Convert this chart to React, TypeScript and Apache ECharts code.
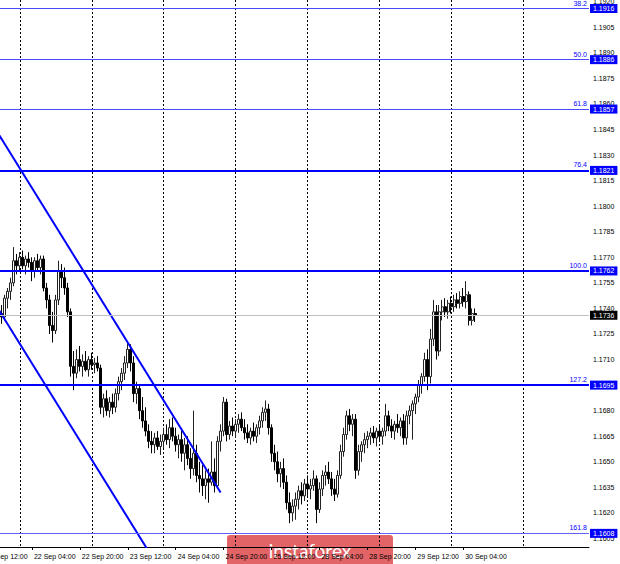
import React, { useEffect, useRef } from "react";
import * as echarts from "echarts";

// ---- data (EURUSD H1) ----
const opens = [
  1.1736, 1.1737, 1.1735, 1.1746, 1.1750, 1.1755, 1.1768, 1.1765, 1.1770, 1.1765,
  1.1769, 1.1767, 1.1762, 1.1768, 1.1764, 1.1769, 1.1752, 1.1745, 1.1730, 1.1727,
  1.1745, 1.1762, 1.1758, 1.1752, 1.1738, 1.1706, 1.1702, 1.1710, 1.1706, 1.1709,
  1.1704, 1.1710, 1.1707, 1.1708, 1.1705, 1.1682, 1.1687, 1.1680, 1.1685, 1.1682,
  1.1690, 1.1697, 1.1702, 1.1708, 1.1716, 1.1708, 1.1690, 1.1693, 1.1680, 1.1674,
  1.1668, 1.1662, 1.1660, 1.1664, 1.1659, 1.1662, 1.1666, 1.1663, 1.1670, 1.1665,
  1.1660, 1.1663, 1.1655, 1.1660, 1.1652, 1.1646, 1.1655, 1.1642, 1.1640, 1.1636,
  1.1640, 1.1638, 1.1644, 1.1636, 1.1662, 1.1668, 1.1685, 1.1666, 1.1671, 1.1668,
  1.1672, 1.1675, 1.1670, 1.1667, 1.1664, 1.1668, 1.1665, 1.1670, 1.1674, 1.1679,
  1.1681, 1.1670, 1.1655, 1.1650, 1.1643, 1.1646, 1.1638, 1.1626, 1.1620, 1.1624,
  1.1628, 1.1633, 1.1630, 1.1637, 1.1634, 1.1636, 1.1640, 1.1622, 1.1634, 1.1642,
  1.1644, 1.1640, 1.1634, 1.1631, 1.1642, 1.1656, 1.1666, 1.1677, 1.1672, 1.1675,
  1.1645, 1.1656, 1.1660, 1.1663, 1.1665, 1.1667, 1.1664, 1.1668, 1.1665, 1.1668,
  1.1677, 1.1671, 1.1668, 1.1672, 1.1670, 1.1674, 1.1664, 1.1677, 1.1680, 1.1684,
  1.1688, 1.1695, 1.1700, 1.1710, 1.1700, 1.1722, 1.1738, 1.1715, 1.1738, 1.1741,
  1.1738, 1.1743, 1.1741, 1.1745, 1.1743, 1.1747, 1.1744, 1.1748, 1.1733, 1.1737,
];
const highs = [
  1.1740, 1.1742, 1.1748, 1.1752, 1.1758, 1.1776, 1.1772, 1.1773, 1.1774, 1.1771,
  1.1773, 1.1770, 1.1770, 1.1772, 1.1771, 1.1771, 1.1755, 1.1748, 1.1738, 1.1748,
  1.1768, 1.1766, 1.1764, 1.1755, 1.1740, 1.1715, 1.1716, 1.1718, 1.1713, 1.1715,
  1.1712, 1.1714, 1.1711, 1.1712, 1.1707, 1.1690, 1.1692, 1.1688, 1.1690, 1.1693,
  1.1700, 1.1705, 1.1712, 1.1720, 1.1719, 1.1712, 1.1697, 1.1695, 1.1688, 1.1682,
  1.1672, 1.1668, 1.1667, 1.1668, 1.1666, 1.1670, 1.1672, 1.1675, 1.1676, 1.1670,
  1.1666, 1.1668, 1.1664, 1.1665, 1.1658, 1.1680, 1.1660, 1.1650, 1.1648, 1.1645,
  1.1646, 1.1662, 1.1652, 1.1665, 1.1672, 1.1688, 1.1687, 1.1674, 1.1676, 1.1675,
  1.1678, 1.1679, 1.1675, 1.1672, 1.1670, 1.1673, 1.1672, 1.1677, 1.1682, 1.1686,
  1.1684, 1.1672, 1.1660, 1.1656, 1.1650, 1.1652, 1.1642, 1.1632, 1.1628, 1.1632,
  1.1636, 1.1638, 1.1640, 1.1642, 1.1640, 1.1645, 1.1642, 1.1638, 1.1645, 1.1648,
  1.1650, 1.1644, 1.1640, 1.1645, 1.1660, 1.1670, 1.1680, 1.1681, 1.1678, 1.1678,
  1.1660, 1.1662, 1.1667, 1.1668, 1.1670, 1.1671, 1.1670, 1.1672, 1.1670, 1.1684,
  1.1680, 1.1675, 1.1674, 1.1678, 1.1676, 1.1678, 1.1680, 1.1683, 1.1686, 1.1690,
  1.1698, 1.1702, 1.1714, 1.1716, 1.1728, 1.1745, 1.1742, 1.1742, 1.1745, 1.1746,
  1.1745, 1.1747, 1.1748, 1.1749, 1.1750, 1.1752, 1.1756, 1.1750, 1.1740, 1.1740,
];
const lows = [
  1.1730, 1.1731, 1.1733, 1.1740, 1.1745, 1.1753, 1.1760, 1.1762, 1.1763, 1.1760,
  1.1764, 1.1756, 1.1758, 1.1762, 1.1760, 1.1750, 1.1740, 1.1725, 1.1720, 1.1725,
  1.1742, 1.1752, 1.1748, 1.1735, 1.1700, 1.1692, 1.1699, 1.1703, 1.1700, 1.1703,
  1.1700, 1.1704, 1.1702, 1.1703, 1.1678, 1.1676, 1.1677, 1.1676, 1.1678, 1.1679,
  1.1686, 1.1692, 1.1698, 1.1705, 1.1703, 1.1685, 1.1684, 1.1675, 1.1670, 1.1665,
  1.1658, 1.1655, 1.1655, 1.1657, 1.1654, 1.1658, 1.1660, 1.1658, 1.1662, 1.1656,
  1.1652, 1.1650, 1.1645, 1.1648, 1.1640, 1.1642, 1.1638, 1.1632, 1.1630, 1.1628,
  1.1626, 1.1636, 1.1632, 1.1634, 1.1656, 1.1665, 1.1662, 1.1663, 1.1665, 1.1664,
  1.1667, 1.1668, 1.1663, 1.1661, 1.1660, 1.1662, 1.1661, 1.1666, 1.1670, 1.1674,
  1.1666, 1.1650, 1.1645, 1.1638, 1.1635, 1.1634, 1.1622, 1.1614, 1.1615, 1.1616,
  1.1622, 1.1625, 1.1627, 1.1630, 1.1628, 1.1633, 1.1614, 1.1620, 1.1630, 1.1636,
  1.1637, 1.1630, 1.1627, 1.1629, 1.1640, 1.1653, 1.1663, 1.1668, 1.1665, 1.1640,
  1.1642, 1.1650, 1.1655, 1.1658, 1.1660, 1.1661, 1.1659, 1.1662, 1.1660, 1.1665,
  1.1668, 1.1664, 1.1663, 1.1667, 1.1665, 1.1660, 1.1660, 1.1672, 1.1663, 1.1678,
  1.1685, 1.1690, 1.1697, 1.1692, 1.1696, 1.1718, 1.1710, 1.1712, 1.1733, 1.1735,
  1.1734, 1.1737, 1.1738, 1.1740, 1.1740, 1.1741, 1.1740, 1.1730, 1.1730, 1.1732,
];
const closes = [
  1.1737, 1.1735, 1.1746, 1.1750, 1.1755, 1.1768, 1.1765, 1.1770, 1.1765, 1.1769,
  1.1767, 1.1762, 1.1768, 1.1764, 1.1769, 1.1752, 1.1745, 1.1730, 1.1727, 1.1745,
  1.1762, 1.1758, 1.1752, 1.1738, 1.1706, 1.1702, 1.1710, 1.1706, 1.1709, 1.1704,
  1.1710, 1.1707, 1.1708, 1.1705, 1.1682, 1.1687, 1.1680, 1.1685, 1.1682, 1.1690,
  1.1697, 1.1702, 1.1708, 1.1716, 1.1708, 1.1690, 1.1693, 1.1680, 1.1674, 1.1668,
  1.1662, 1.1660, 1.1664, 1.1659, 1.1662, 1.1666, 1.1663, 1.1670, 1.1665, 1.1660,
  1.1663, 1.1655, 1.1660, 1.1652, 1.1646, 1.1655, 1.1642, 1.1640, 1.1636, 1.1640,
  1.1638, 1.1644, 1.1636, 1.1662, 1.1668, 1.1685, 1.1666, 1.1671, 1.1668, 1.1672,
  1.1675, 1.1670, 1.1667, 1.1664, 1.1668, 1.1665, 1.1670, 1.1674, 1.1679, 1.1681,
  1.1670, 1.1655, 1.1650, 1.1643, 1.1646, 1.1638, 1.1626, 1.1620, 1.1624, 1.1628,
  1.1633, 1.1630, 1.1637, 1.1634, 1.1636, 1.1640, 1.1622, 1.1634, 1.1642, 1.1644,
  1.1640, 1.1634, 1.1631, 1.1642, 1.1656, 1.1666, 1.1677, 1.1672, 1.1675, 1.1645,
  1.1656, 1.1660, 1.1663, 1.1665, 1.1667, 1.1664, 1.1668, 1.1665, 1.1668, 1.1677,
  1.1671, 1.1668, 1.1672, 1.1670, 1.1674, 1.1664, 1.1677, 1.1680, 1.1684, 1.1688,
  1.1695, 1.1700, 1.1710, 1.1700, 1.1722, 1.1738, 1.1715, 1.1738, 1.1741, 1.1738,
  1.1743, 1.1741, 1.1745, 1.1743, 1.1747, 1.1744, 1.1748, 1.1733, 1.1737, 1.1736,
];

// trading days shown on the time axis (weekend skipped)
const tradingDays = ["21 Sep", "22 Sep", "23 Sep", "24 Sep", "25 Sep", "28 Sep", "29 Sep", "30 Sep", "01 Oct"];
const firstHour = 12; // axis starts at 21 Sep 12:00
const slotCount = 203;
const firstCandleSlot = 5; // first candle: 21 Sep 17:00

const xTickLabels = [
  "21 Sep 12:00", "22 Sep 04:00", "22 Sep 20:00", "23 Sep 12:00", "24 Sep 04:00",
  "24 Sep 20:00", "25 Sep 12:00", "28 Sep 04:00", "28 Sep 20:00", "29 Sep 12:00", "30 Sep 04:00",
];
const yTickValues = [
  1.1605, 1.1620, 1.1635, 1.1650, 1.1665, 1.1680, 1.1695, 1.1710, 1.1725, 1.1740, 1.1755,
  1.1770, 1.1785, 1.1800, 1.1815, 1.1830, 1.1845, 1.1860, 1.1875, 1.1890, 1.1905, 1.1920,
];
const fibNames = ["38.2", "50.0", "61.8", "76.4", "100.0", "127.2", "161.8"];
const fibPrices = [1.1916, 1.1886, 1.1857, 1.1821, 1.1762, 1.1695, 1.1608];
const currentPrice = 1.1736;
// trend channel: [slot, price]
const upperTrend = [[5, 1.1842], [79, 1.1632]];
const lowerTrend = [[5, 1.1739], [59, 1.1586]];

const yMin = 1.16;
const yMax = 1.1921;

// styles
const fibWidths = [1, 1, 1, 2, 2, 2, 1];
const fibColors = ["#4848ff", "#4848ff", "#4848ff", "#0000ff", "#0000ff", "#0000ff", "#6060ff"];
const FONT = "Liberation Sans";

function buildCategories(): string[] {
  const out: string[] = [];
  let first = true;
  for (const d of tradingDays) {
    for (let h = first ? firstHour : 0; h < 24; h++) {
      out.push(`${d} ${String(h).padStart(2, "0")}:00`);
      if (out.length >= slotCount) return out;
    }
    first = false;
  }
  return out;
}

export default function App() {
  const ref = useRef<HTMLDivElement>(null);
  useEffect(() => {
    if (!ref.current) return;
    const chart = echarts.init(ref.current, null, { renderer: "svg" });
    const categories = buildCategories();
    const candleData = opens.map((o, k) => [k + firstCandleSlot, o, closes[k], lows[k], highs[k]]);

    const boxLabel = (text: string, bg: string) => ({
      show: true,
      position: "end",
      formatter: text,
      color: "#ffffff",
      backgroundColor: bg,
      padding: [1, 3, 1, 3],
      fontSize: 7,
      fontFamily: FONT,
      distance: 1,
    });

    const fibLines: any[] = fibPrices.map((p, k) => ({
      yAxis: p,
      lineStyle: { color: fibColors[k], width: fibWidths[k], type: "solid" },
      label: {
        show: true,
        position: "insideEndTop",
        formatter: fibNames[k],
        color: "#0000ff",
        fontSize: 7,
        fontFamily: FONT,
        distance: [2, 2],
      },
    }));
    fibLines.push({
      yAxis: currentPrice,
      lineStyle: { color: "#c0c0c0", width: 1, type: "solid" },
      label: { show: false },
    });
    const priceBoxes: any[] = fibPrices.map((p) => ({
      yAxis: p,
      label: boxLabel(p.toFixed(4), "#0000ff"),
    }));
    priceBoxes.push({ yAxis: currentPrice, label: boxLabel(currentPrice.toFixed(4), "#000000") });

    const showTick = (_i: number, v: string) => xTickLabels.includes(v);

    chart.setOption({
      animation: false,
      backgroundColor: "#ffffff",
      textStyle: { fontFamily: FONT },
      grid: { left: -16, right: 31, top: 0, bottom: 17, containLabel: false, outerBoundsMode: "none" },
      xAxis: [
        {
          type: "category",
          data: categories,
          boundaryGap: false,
          axisLine: { show: true, lineStyle: { color: "#000000", width: 1 } },
          axisTick: { show: true, interval: showTick, length: 3, lineStyle: { color: "#000000" } },
          axisLabel: {
            interval: showTick,
            align: "left",
            margin: 6,
            padding: [0, 0, 0, 2],
            fontSize: 7,
            fontFamily: FONT,
            color: "#000000",
          },
          splitLine: {
            show: true,
            interval: (_i: number, v: string) => v.endsWith(" 00:00"),
            lineStyle: { color: "#000000", width: 1, type: [2, 2] },
          },
        },
        { type: "value", min: 0, max: slotCount - 1, show: false },
      ],
      yAxis: {
        type: "value",
        position: "right",
        min: yMin,
        max: yMax,
        axisLine: { show: true, lineStyle: { color: "#000000", width: 1 } },
        axisTick: { show: true, customValues: yTickValues, length: 3, lineStyle: { color: "#000000" } },
        axisLabel: {
          customValues: yTickValues,
          formatter: (v: number) => v.toFixed(4),
          fontSize: 7,
          fontFamily: FONT,
          color: "#000000",
          margin: 4,
        },
        splitLine: { show: false },
      },
      series: [
        {
          type: "candlestick",
          xAxisIndex: 0,
          yAxisIndex: 0,
          data: candleData,
          encode: { x: 0, y: [1, 2, 3, 4] },
          barWidth: 2.5,
          itemStyle: {
            color: "#ffffff",
            color0: "#000000",
            borderColor: "#222222",
            borderColor0: "#000000",
            borderWidth: 1,
          },
          markLine: {
            silent: true,
            symbol: ["none", "none"],
            precision: 4,
            animation: false,
            data: fibLines,
          },
        },
        {
          type: "line",
          xAxisIndex: 1,
          yAxisIndex: 0,
          data: upperTrend,
          symbol: "none",
          clip: true,
          silent: true,
          lineStyle: { color: "#0000ff", width: 2 },
        },
        {
          type: "line",
          xAxisIndex: 1,
          yAxisIndex: 0,
          data: lowerTrend,
          symbol: "none",
          clip: true,
          silent: true,
          lineStyle: { color: "#0000ff", width: 2 },
          markLine: {
            silent: true,
            symbol: ["none", "none"],
            precision: 4,
            animation: false,
            lineStyle: { width: 0, color: "#ffffff" },
            data: priceBoxes,
          },
        },
      ],
      graphic: [
        {
          type: "group",
          z: 100,
          children: [
            {
              type: "rect",
              shape: { x: 227, y: 535, width: 166, height: 32, r: [3, 3, 0, 0] },
              style: { fill: "#e26466" },
            },
            {
              type: "text",
              x: 310,
              y: 550,
              style: {
                text: "instaforex",
                fill: "#ffffff",
                fontSize: 19,
                fontFamily: "Lato",
                align: "center",
                verticalAlign: "middle",
              },
            },
          ],
        },
      ],
    });
    return () => chart.dispose();
  }, []);
  return (
    <div
      ref={ref}
      style={{ position: "fixed", left: 0, top: 0, width: 620, height: 564, background: "#fff" }}
    />
  );
}
